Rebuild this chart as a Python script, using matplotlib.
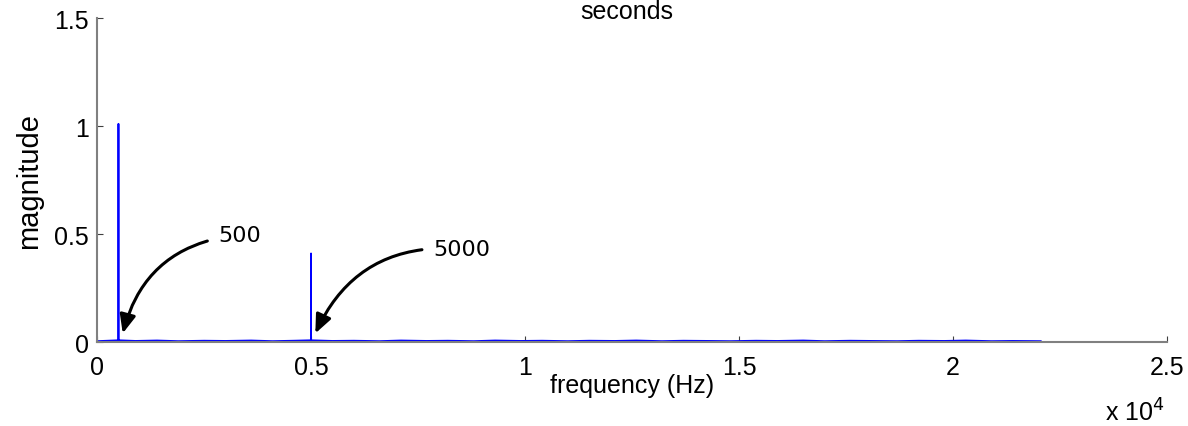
import matplotlib
matplotlib.use("Agg")
import matplotlib.pyplot as plt

# spectrum samples (Hz, magnitude)
freq = [0, 250, 499, 500, 501, 900, 1400, 1900, 2500, 3000, 3600, 4100, 4600,
        4999, 5000, 5001, 5500, 6000, 6600, 7100, 7700, 8200, 8800, 9300, 9900,
        10400, 11000, 11500, 12100, 12600, 13200, 13700, 14300, 14800, 15400,
        15900, 16500, 17000, 17600, 18100, 18700, 19200, 19800, 20300, 20900,
        21400, 22050]
mag = [0.004, 0.006, 0.008, 1.01, 0.008, 0.005, 0.007, 0.004, 0.006, 0.005,
       0.007, 0.004, 0.006, 0.008, 0.41, 0.008, 0.005, 0.006, 0.004, 0.007,
       0.005, 0.006, 0.004, 0.007, 0.005, 0.006, 0.004, 0.006, 0.005, 0.007,
       0.004, 0.006, 0.005, 0.004, 0.006, 0.005, 0.007, 0.004, 0.006, 0.005,
       0.004, 0.006, 0.005, 0.007, 0.004, 0.005, 0.004]

peak_labels = ["500", "5000"]
peak_freq = [500, 5000]
label_pos = [(2830, 0.495), (7850, 0.43)]

xticks = [0, 5000, 10000, 15000, 20000, 25000]
xticklabels = ["0", "0.5", "1", "1.5", "2", "2.5"]
yticks = [0, 0.5, 1, 1.5]

plt.rcParams['font.family'] = ['Liberation Sans', 'DejaVu Sans']

fig = plt.figure(figsize=(11.88, 4.27), dpi=100)
ax = fig.add_axes([0.0817, 0.1967, 0.9006, 0.7588])
ax.plot(freq, mag, color='#0000ff', linewidth=1.3)

for lab, f, (tx, ty) in zip(peak_labels, peak_freq, label_pos):
    ax.annotate(lab, xy=(f + 100, 0.04), xytext=(tx, ty),
                fontsize=16, family='DejaVu Sans', va='center', ha='left',
                arrowprops=dict(arrowstyle='-|>,head_length=0.7,head_width=0.3',
                                color='black', lw=2.2,
                                connectionstyle='arc3,rad=0.35',
                                shrinkA=6, shrinkB=0))

ax.set_xlim(0, 25000)
ax.set_ylim(0, 1.5)
ax.set_xticks(xticks)
ax.set_xticklabels(xticklabels)
ax.set_yticks(yticks)
ax.set_yticklabels(["0", "0.5", "1", "1.5"])
ax.tick_params(direction='in', length=4, color='#404040', labelsize=18)
ax.tick_params(axis='x', pad=9)
ax.tick_params(axis='y', pad=6)
for s in ['top', 'right']:
    ax.spines[s].set_visible(False)
for s in ['left', 'bottom']:
    ax.spines[s].set_color('#808080')
    ax.spines[s].set_linewidth(1.5)

ax.set_xlabel('frequency (Hz)', fontsize=18, labelpad=-4)
ax.set_ylabel('magnitude', fontsize=21, labelpad=8)
fig.text(0.528, 0.955, 'seconds', fontsize=18, ha='center', va='baseline')
fig.text(0.93, 0.012, r'x 10$^{4}$', fontsize=18, ha='left', va='baseline')

fig.savefig('out.png', dpi=100)
